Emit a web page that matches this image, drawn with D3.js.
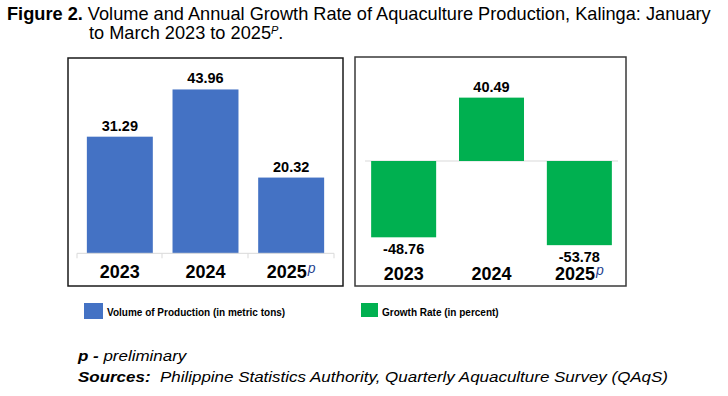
<!DOCTYPE html>
<html>
<head>
<meta charset="utf-8">
<script src="https://cdn.jsdelivr.net/npm/d3@7"></script>
<style>
html,body{margin:0;padding:0;background:#fff;}
svg{display:block;font-family:"Liberation Sans",Arial,sans-serif;}
</style>
</head>
<body>
<svg id="chart" width="728" height="396"></svg>
<script>
const categories = ["2023", "2024", "2025"];
const preliminaryFlags = [false, false, true];
const volumeValues = [31.29, 43.96, 20.32];
const growthValues = [-48.76, 40.49, -53.78];
const legendLabels = ["Volume of Production (in metric tons)", "Growth Rate (in percent)"];
const colors = {volume: "#4472C4", growth: "#00B050"};

const svg = d3.select("#chart");

// Title
const t1 = svg.append("text").attr("x", 7).attr("y", 20).attr("font-size", 18.2).attr("fill", "#000");
t1.append("tspan").attr("font-weight", "bold").text("Figure 2.");
t1.append("tspan").text(" Volume and Annual Growth Rate of Aquaculture Production, Kalinga: January");
const t2 = svg.append("text").attr("x", 89).attr("y", 39).attr("font-size", 18.2).attr("fill", "#000");
t2.append("tspan").text("to March 2023 to 2025");
t2.append("tspan").attr("font-style", "italic").attr("font-size", 11).attr("dy", -5).text("P");
t2.append("tspan").attr("dy", 5).text(".");

// ---------- Left panel: volume ----------
svg.append("rect").attr("x", 68).attr("y", 58).attr("width", 275).attr("height", 228)
  .attr("fill", "none").attr("stroke", "#1a1a1a").attr("stroke-width", 1.5);

const xL = d3.scaleBand().domain(categories).range([77, 334]).paddingInner(0.23).paddingOuter(0.115);
const yL = d3.scaleLinear().domain([0, 50]).range([253.3, 253.3 - 50 * 3.727]);

const gL = svg.append("g");
gL.selectAll("rect.bar").data(volumeValues).join("rect")
  .attr("class", "bar")
  .attr("x", (d, i) => xL(categories[i]))
  .attr("width", xL.bandwidth())
  .attr("y", d => yL(d))
  .attr("height", d => yL(0) - yL(d))
  .attr("fill", colors.volume);
gL.selectAll("text.val").data(volumeValues).join("text")
  .attr("class", "val")
  .attr("x", (d, i) => xL(categories[i]) + xL.bandwidth() / 2)
  .attr("y", d => yL(d) - 6)
  .attr("text-anchor", "middle").attr("font-weight", "bold").attr("font-size", 14.5)
  .text(d => d.toFixed(2));

const axL = d3.axisBottom(xL).tickSize(0).tickFormat(() => "");
const axLg = svg.append("g").attr("transform", `translate(0,${yL(0)})`).call(axL);
axLg.select(".domain").attr("stroke", "#d9d9d9").attr("d", `M77,0H334`);
axLg.selectAll(".sep").data([77, 162, 248, 334]).join("line").attr("class", "sep")
  .attr("x1", d => d).attr("x2", d => d).attr("y1", 0).attr("y2", 5).attr("stroke", "#d9d9d9");

function catLabel(g, scale, i, y) {
  const tx = g.append("text")
    .attr("x", scale(categories[i]) + scale.bandwidth() / 2)
    .attr("y", y)
    .attr("text-anchor", "middle").attr("font-weight", "bold").attr("font-size", 18).attr("fill", "#000");
  tx.append("tspan").text(categories[i]);
  if (preliminaryFlags[i]) {
    tx.append("tspan").attr("font-style", "italic").attr("font-weight", "normal").attr("font-size", 14)
      .attr("fill", "#1f3f8f").attr("dy", -5).attr("dx", 1).text("p");
  }
}
categories.forEach((c, i) => catLabel(svg, xL, i, 278));

// ---------- Right panel: growth ----------
svg.append("rect").attr("x", 355).attr("y", 57).attr("width", 271).attr("height", 229)
  .attr("fill", "none").attr("stroke", "#3a3a3a").attr("stroke-width", 1.5);

const xR = d3.scaleBand().domain(categories).range([365, 618]).paddingInner(0.26).paddingOuter(0.07);
const yR = d3.scaleLinear().domain([-60, 60]).range([161 + 60 * 1.565, 161 - 60 * 1.565]);

const gR = svg.append("g");
gR.append("line").attr("x1", 365).attr("x2", 618).attr("y1", yR(0)).attr("y2", yR(0)).attr("stroke", "#d9d9d9");
gR.selectAll("rect.bar").data(growthValues).join("rect")
  .attr("class", "bar")
  .attr("x", (d, i) => xR(categories[i]))
  .attr("width", xR.bandwidth())
  .attr("y", d => yR(Math.max(0, d)))
  .attr("height", d => Math.abs(yR(d) - yR(0)))
  .attr("fill", colors.growth);
gR.selectAll("text.val").data(growthValues).join("text")
  .attr("class", "val")
  .attr("x", (d, i) => xR(categories[i]) + xR.bandwidth() / 2)
  .attr("y", d => d >= 0 ? yR(d) - 6 : yR(d) + 17)
  .attr("text-anchor", "middle").attr("font-weight", "bold").attr("font-size", 14.5)
  .text(d => d.toFixed(2));
categories.forEach((c, i) => catLabel(svg, xR, i, 280));

// ---------- Legend ----------
const legend = svg.append("g");
legend.append("rect").attr("x", 84).attr("y", 303).attr("width", 19).attr("height", 16).attr("fill", colors.volume);
legend.append("text").attr("x", 107).attr("y", 315.5).attr("font-weight", "bold").attr("font-size", 10).text(legendLabels[0]);
legend.append("rect").attr("x", 361).attr("y", 303).attr("width", 17).attr("height", 14).attr("fill", colors.growth);
legend.append("text").attr("x", 382).attr("y", 315.5).attr("font-weight", "bold").attr("font-size", 10).text(legendLabels[1]);

// ---------- Footnotes ----------
const fsx = 1.17;
const f1 = svg.append("g").attr("transform", `translate(78,361) scale(${fsx},1)`)
  .append("text").attr("font-size", 14.5).attr("font-style", "italic");
f1.append("tspan").attr("font-weight", "bold").text("p - ");
f1.append("tspan").text("preliminary");
const f2 = svg.append("g").attr("transform", `translate(78,381.5) scale(${fsx},1)`)
  .append("text").attr("font-size", 14.5).attr("font-style", "italic");
f2.append("tspan").attr("font-weight", "bold").text("Sources:");
f2.append("tspan").attr("xml:space", "preserve").text("  Philippine Statistics Authority, Quarterly Aquaculture Survey (QAqS)");
</script>
</body>
</html>
